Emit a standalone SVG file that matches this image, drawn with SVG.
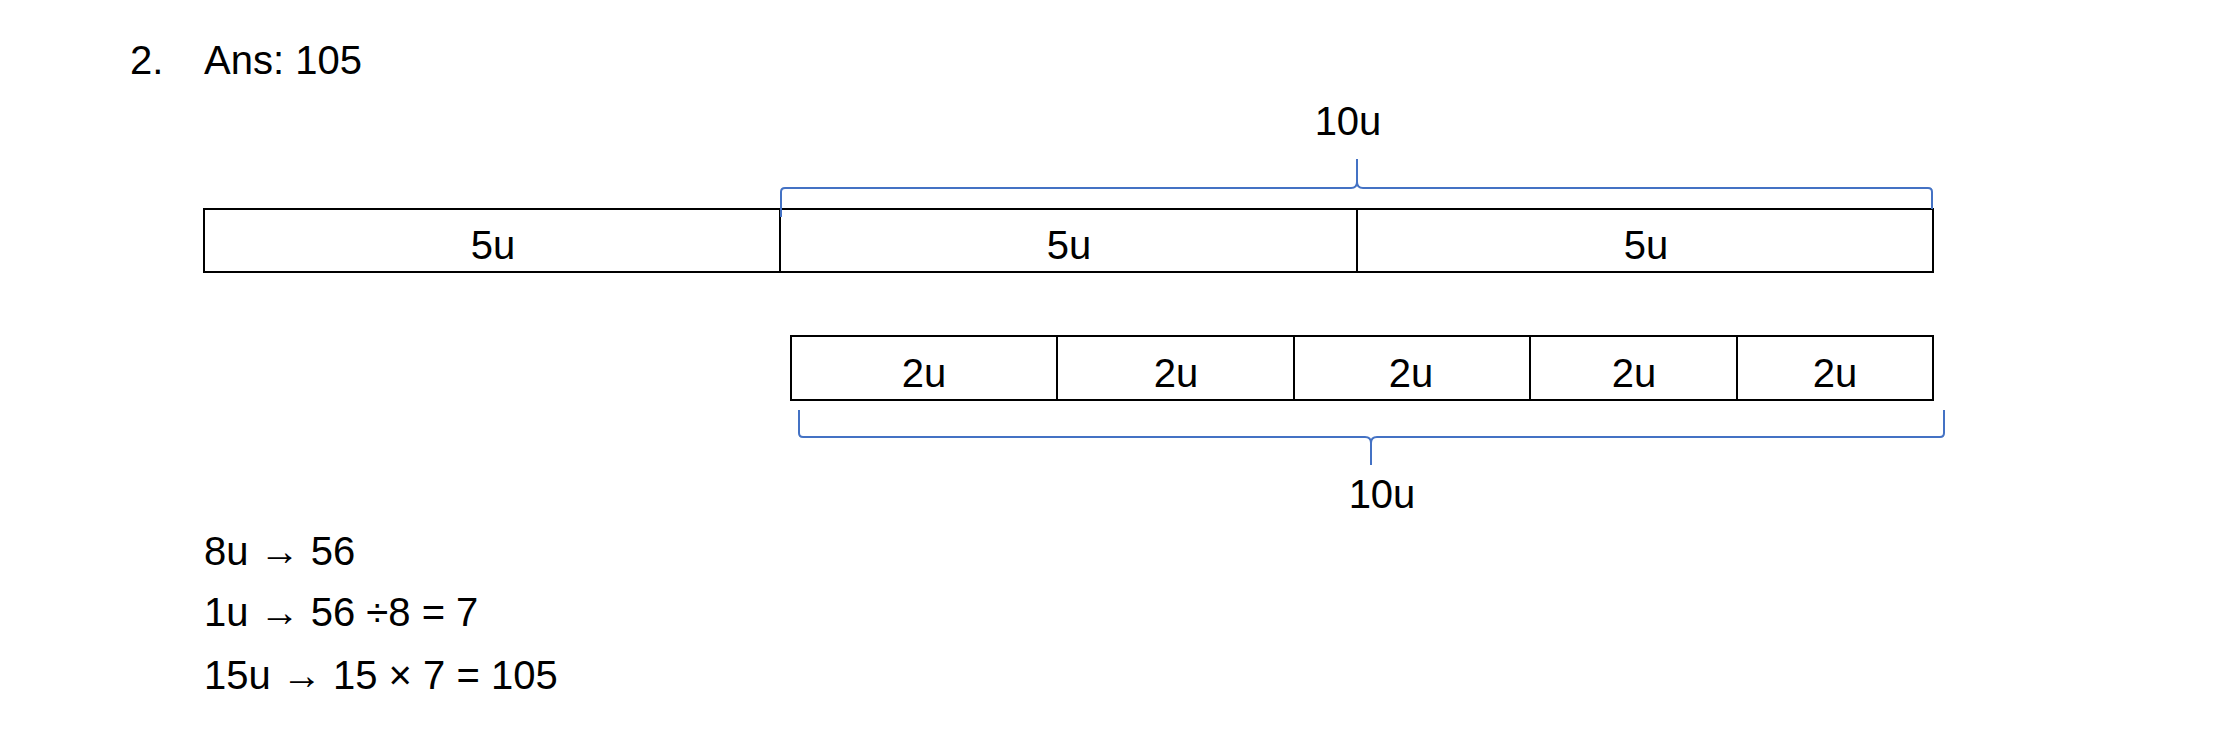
<svg xmlns="http://www.w3.org/2000/svg" width="2232" height="744" viewBox="0 0 2232 744">
<style>
text{font-family:"Liberation Sans",Arial,sans-serif;font-size:40px;fill:#000}
.c{text-anchor:middle}
.box{fill:#fff;stroke:#000;stroke-width:2}
.br{fill:none;stroke:#4472C4;stroke-width:2}
</style>
<rect width="2232" height="744" fill="#fff"/>
<text x="130" y="74">2.</text><text x="204" y="74">Ans: 105</text>
<g id="top-bar">
<rect class="box" x="204" y="209" width="576" height="63"/>
<rect class="box" x="780" y="209" width="577" height="63"/>
<rect class="box" x="1357" y="209" width="576" height="63"/>
<text class="c" x="493" y="259">5u</text>
<text class="c" x="1069" y="259">5u</text>
<text class="c" x="1646" y="259">5u</text>
</g>
<g id="bottom-bar">
<rect class="box" x="791" y="336" width="266" height="64"/>
<rect class="box" x="1057" y="336" width="237" height="64"/>
<rect class="box" x="1294" y="336" width="236" height="64"/>
<rect class="box" x="1530" y="336" width="207" height="64"/>
<rect class="box" x="1737" y="336" width="196" height="64"/>
<text class="c" x="924" y="387">2u</text>
<text class="c" x="1176" y="387">2u</text>
<text class="c" x="1411" y="387">2u</text>
<text class="c" x="1634" y="387">2u</text>
<text class="c" x="1835" y="387">2u</text>
</g>
<g id="braces">
<path class="br" d="M781,217 V192 Q781,188 785,188 H1351 Q1357,188 1357,182 V159 M1357,182 Q1357,188 1363,188 H1928 Q1932,188 1932,192 V209"/>
<path class="br" d="M799,410 V433 Q799,437 803,437 H1365 Q1371,437 1371,443 V465 M1371,443 Q1371,437 1377,437 H1940 Q1944,437 1944,433 V410"/>
</g>
<text class="c" x="1348" y="135">10u</text>
<text class="c" x="1382" y="508">10u</text>
<text x="204" y="565">8u <tspan font-weight="bold">→</tspan> 56</text>
<text x="204" y="626">1u <tspan font-weight="bold">→</tspan> 56 ÷8 = 7</text>
<text x="204" y="689">15u <tspan font-weight="bold">→</tspan> 15 × 7 = 105</text>
</svg>
